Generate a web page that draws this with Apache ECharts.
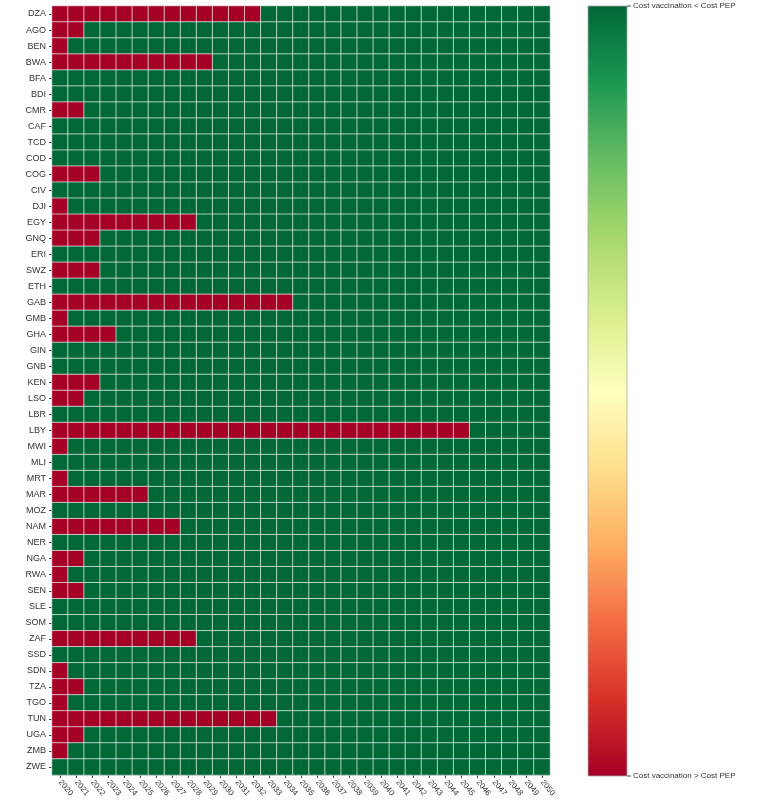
<!DOCTYPE html>
<html>
<head>
<meta charset="utf-8">
<script src="https://cdn.jsdelivr.net/npm/echarts@6/dist/echarts.min.js"></script>
<style>html,body{margin:0;padding:0;background:#fff;}#c{width:779px;height:809px;}</style>
</head>
<body>
<div id="c"></div>
<script>
var countries = ['DZA','AGO','BEN','BWA','BFA','BDI','CMR','CAF','TCD','COD','COG','CIV','DJI','EGY','GNQ','ERI','SWZ','ETH','GAB','GMB','GHA','GIN','GNB','KEN','LSO','LBR','LBY','MWI','MLI','MRT','MAR','MOZ','NAM','NER','NGA','RWA','SEN','SLE','SOM','ZAF','SSD','SDN','TZA','TGO','TUN','UGA','ZMB','ZWE'];
var columnLabels = ['2020','2021','2022','2023','2024','2025','2026','2027','2028','2029','2030','2031','2032','2033','2034','2035','2036','2037','2038','2039','2040','2041','2042','2043','2044','2045','2046','2047','2048','2049','2050'];
// number of leading columns where Cost vaccination > Cost PEP (red), per country
var redCounts = [13,2,1,10,0,0,2,0,0,0,3,0,1,9,3,0,3,0,15,1,4,0,0,3,2,0,26,1,0,1,6,0,8,0,2,1,2,0,0,9,0,1,2,1,14,2,1,0];
var colorbarLabels = ['Cost vaccination < Cost PEP','Cost vaccination > Cost PEP'];
var rdylgn = ['#a50026','#d73027','#f46d43','#fdae61','#fee08b','#ffffbf','#d9ef8b','#a6d96a','#66bd63','#1a9850','#006837'];

var cells = [];
for (var r = 0; r < countries.length; r++) {
  for (var c = 0; c < columnLabels.length; c++) {
    cells.push([c, r, c < redCounts[r] ? 0 : 1]);
  }
}

var stops = [];
for (var i = 0; i < rdylgn.length; i++) {
  stops.push({offset: i / (rdylgn.length - 1), color: rdylgn[rdylgn.length - 1 - i]});
}

var chart = echarts.init(document.getElementById('c'));
var barTop = 6, barH = 770, barLeft = 588, barW = 39;
chart.setOption({
  animation: false,
  grid: {left: 52, top: 6, right: 229, bottom: 34, containLabel: false},
  xAxis: {
    type: 'category', data: columnLabels,
    axisLine: {show: true, lineStyle: {color: '#bbbbbb'}},
    axisTick: {show: true, alignWithLabel: true, length: 3, lineStyle: {color: '#444'}},
    axisLabel: {rotate: -50, fontSize: 8, color: '#333', fontFamily: 'Liberation Sans', interval: 0, margin: 6},
    splitLine: {show: false}
  },
  yAxis: {
    type: 'category', data: countries, inverse: true,
    axisLine: {show: true, lineStyle: {color: '#bbbbbb'}},
    axisTick: {show: true, alignWithLabel: true, length: 3, lineStyle: {color: '#444'}},
    axisLabel: {fontSize: 9, color: '#333', fontFamily: 'Liberation Sans', interval: 0, margin: 6},
    splitLine: {show: false}
  },
  visualMap: {
    type: 'continuous', min: 0, max: 1, dimension: 2, show: false,
    inRange: {color: rdylgn}
  },
  graphic: [
    {type: 'rect', shape: {x: barLeft, y: barTop, width: barW, height: barH},
     style: {fill: new echarts.graphic.LinearGradient(0, 0, 0, 1, stops), stroke: '#aaaaaa', lineWidth: 0.8}},
    {type: 'line', shape: {x1: barLeft + barW, y1: barTop, x2: barLeft + barW + 4, y2: barTop}, style: {stroke: '#444', lineWidth: 1}},
    {type: 'line', shape: {x1: barLeft + barW, y1: barTop + barH, x2: barLeft + barW + 4, y2: barTop + barH}, style: {stroke: '#444', lineWidth: 1}},
    {type: 'text', x: barLeft + barW + 6, y: barTop, style: {text: colorbarLabels[0], fontSize: 8, fill: '#333', fontFamily: 'Liberation Sans', textVerticalAlign: 'middle', textAlign: 'left'}},
    {type: 'text', x: barLeft + barW + 6, y: barTop + barH, style: {text: colorbarLabels[1], fontSize: 8, fill: '#333', fontFamily: 'Liberation Sans', textVerticalAlign: 'middle', textAlign: 'left'}}
  ],
  series: [{
    type: 'heatmap', data: cells,
    itemStyle: {borderColor: 'rgba(255,255,255,0.65)', borderWidth: 1},
    emphasis: {disabled: true}
  }]
});
</script>
</body>
</html>
